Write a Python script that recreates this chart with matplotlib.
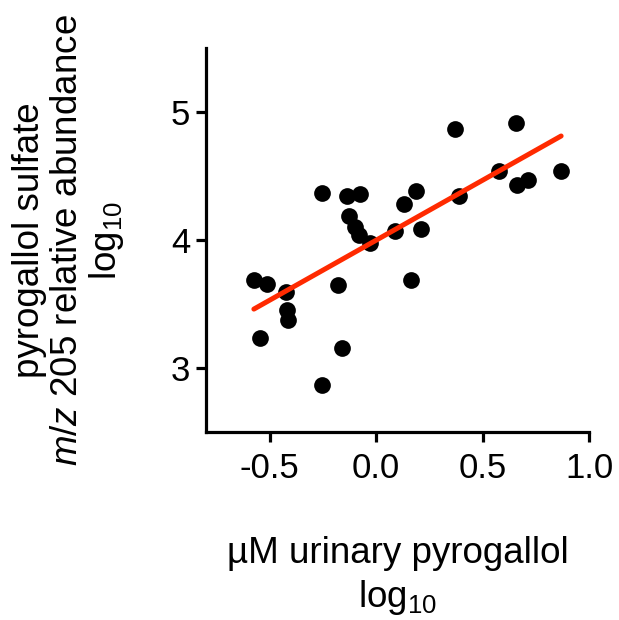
import numpy as np
import matplotlib
matplotlib.use("Agg")
from matplotlib import pyplot as plt

# log10 uM urinary pyrogallol vs log10 pyrogallol sulfate abundance
pyrogallol = [-0.575, -0.513, -0.424, -0.418, -0.413, -0.544, -0.256, -0.256,
              -0.178, -0.159, -0.135, -0.074, -0.129, -0.100, -0.083, -0.028,
              0.090, 0.132, 0.187, 0.209, 0.162, 0.371, 0.388, 0.577,
              0.659, 0.662, 0.714, 0.869]
sulfate = [3.684, 3.657, 3.592, 3.455, 3.373, 3.231, 4.368, 2.871,
           3.647, 3.155, 4.342, 4.358, 4.184, 4.100, 4.040, 3.980,
           4.070, 4.279, 4.384, 4.084, 3.689, 4.871, 4.347, 4.537,
           4.916, 4.431, 4.468, 4.539]

xticks = [-0.5, 0.0, 0.5, 1.0]
yticks = [3, 4, 5]

plt.rcParams['font.family'] = ['Liberation Sans', 'DejaVu Sans']
plt.rcParams['mathtext.fontset'] = 'custom'
plt.rcParams['mathtext.rm'] = 'Liberation Sans'
plt.rcParams['mathtext.it'] = 'Liberation Sans:italic'

fig = plt.figure(figsize=(6.19, 6.20), dpi=100)
ax = fig.add_axes([206/619, 188/620, 383/619, 384/620])

x = np.array(pyrogallol)
y = np.array(sulfate)
slope, icpt = np.polyfit(x, y, 1)
xl = np.array([x.min(), x.max()])
ax.plot(xl, slope*xl + icpt, color='#ff2a00', lw=3.6, solid_capstyle='round', zorder=3)
ax.scatter(x, y, s=145, color='black', zorder=2, linewidths=0)

ax.set_xlim(-0.8, 1.0)
ax.set_ylim(2.5, 5.5)
ax.set_xticks(xticks)
ax.set_xticklabels(['%.1f' % t for t in xticks])
ax.set_yticks(yticks)

for s in ['top', 'right']:
    ax.spines[s].set_visible(False)
for s in ['left', 'bottom']:
    ax.spines[s].set_linewidth(2.3)
ax.tick_params(width=2.3, length=7.2, labelsize=25)
ax.tick_params(axis='x', pad=7)
ax.tick_params(axis='y', pad=4)

ax.set_xlabel('µM urinary pyrogallol\nlog$_{10}$', fontsize=26.5, linespacing=1.25)
ax.xaxis.set_label_coords(0.5, -0.27)
ax.set_ylabel('pyrogallol sulfate\n$m/z$ 205 relative abundance\nlog$_{10}$',
              fontsize=26.5, linespacing=1.08)
ax.yaxis.set_label_coords(-0.209, 0.5)

fig.savefig('out.png', dpi=100)
